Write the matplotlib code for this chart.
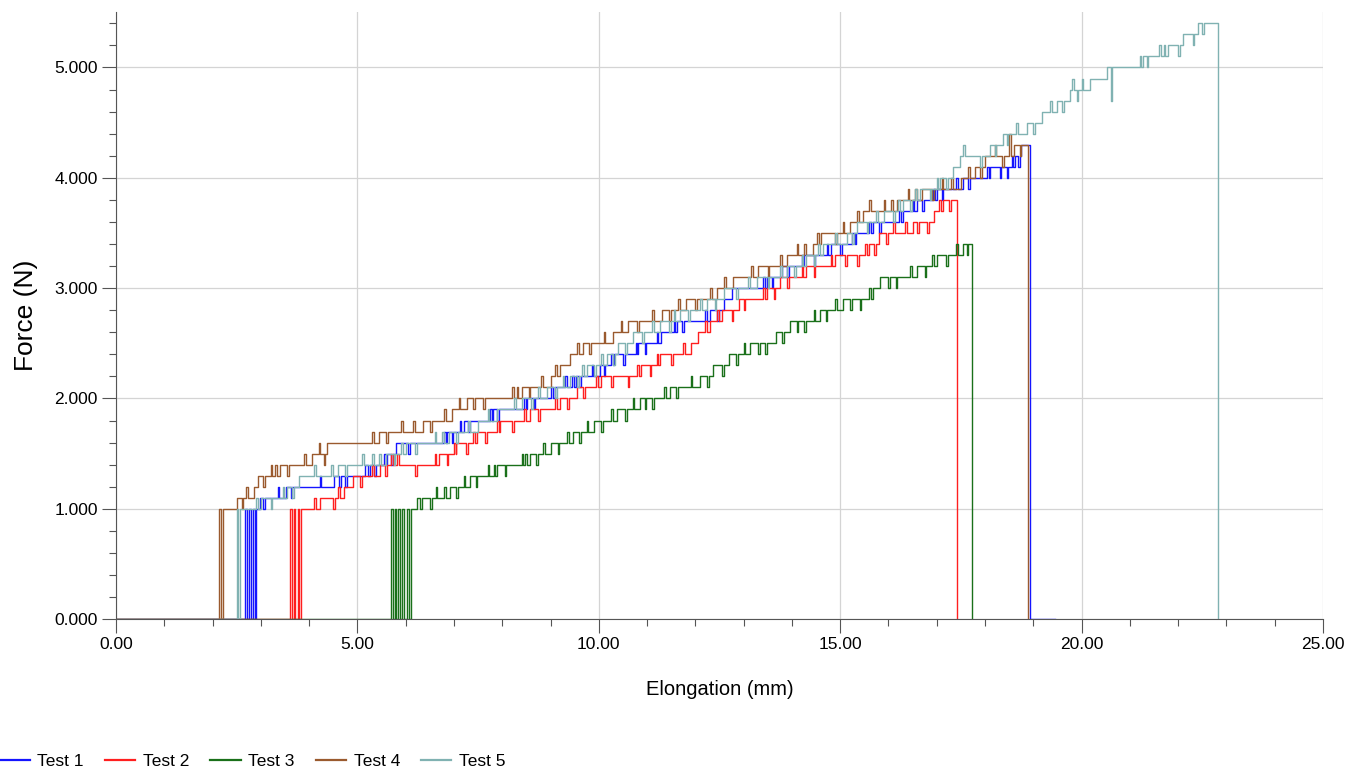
import numpy as np
import matplotlib.pyplot as plt
from matplotlib.lines import Line2D
from matplotlib.ticker import FuncFormatter, MultipleLocator

plt.rcParams['font.family'] = ['Liberation Sans', 'DejaVu Sans']

# step changes: elongation (mm) where the force level starts, force (N)
t1_step_x = [0, 2.90, 2.98, 3.52, 4.52, 5.15, 5.62, 5.80, 6.86, 7.20, 7.80, 8.52, 9.02, 9.52,
             10.02, 10.32, 10.82, 11.28, 11.62, 12.30, 12.60, 12.76, 13.48, 13.80, 14.25, 14.80,
             15.24, 15.68, 16.30, 16.60, 17.00, 17.55, 18.10, 18.62, 18.74, 18.93, 19.45]
t1_step_f = [0, 1000, 1100, 1200, 1300, 1400, 1500, 1600, 1700, 1800, 1900, 2000, 2100, 2200,
             2300, 2400, 2500, 2600, 2700, 2800, 2900, 3000, 3100, 3200, 3300, 3400,
             3500, 3600, 3700, 3800, 3900, 4000, 4100, 4200, 4300, 0, 0]
t1_spike_x = [2.68, 2.76, 2.84, 3.05, 3.35, 3.62, 4.22, 4.62, 4.75, 5.22, 5.35, 5.55, 5.70, 6.05,
              6.80, 6.95, 7.12, 7.30, 7.75, 7.90, 8.45, 8.65, 9.05, 9.30, 9.45, 9.60, 9.85, 10.10,
              10.26, 10.50, 10.76, 10.95, 11.20, 11.55, 11.72, 12.20, 12.45, 13.40, 13.58, 13.90,
              14.20, 14.45, 14.72, 15.00, 15.30, 15.60, 15.80, 16.22, 16.50, 16.70, 16.92, 17.10,
              17.40, 17.65, 18.05, 18.30, 18.45, 18.55, 18.68]
t1_spike_f = [1000, 1000, 1000, 1000, 1200, 1100, 1300, 1200, 1200, 1300, 1300, 1500, 1400, 1500,
              1700, 1600, 1800, 1700, 1900, 1800, 2000, 1900, 2000, 2200, 2200, 2100, 2300, 2200,
              2400, 2300, 2500, 2400, 2600, 2700, 2600, 2800, 2700, 3100, 3000, 3100,
              3300, 3200, 3400, 3300, 3400, 3600, 3500, 3700, 3800, 3700, 3900, 3800,
              4000, 3900, 4100, 4000, 4000, 4200, 4100]

t2_step_x = [0, 3.84, 4.22, 4.72, 4.90, 5.47, 6.70, 7.05, 7.48, 7.95, 8.58, 9.20, 9.55, 10.05,
             10.88, 11.27, 11.90, 12.05, 12.30, 12.55, 12.90, 13.48, 13.75, 14.30, 14.90, 15.60,
             15.80, 16.50, 16.95, 17.13, 17.42]
t2_step_f = [0, 1000, 1100, 1200, 1300, 1400, 1500, 1600, 1700, 1800, 1900, 2000, 2100, 2200,
             2300, 2400, 2500, 2600, 2700, 2800, 2900, 3000, 3100, 3200, 3300, 3400,
             3500, 3600, 3700, 3800, 0]
t2_spike_x = [3.60, 3.68, 3.76, 4.10, 4.50, 4.60, 5.05, 5.30, 5.58, 5.70, 5.82, 6.20, 6.60, 6.85,
              7.00, 7.25, 7.40, 7.65, 7.90, 8.20, 8.45, 8.75, 9.10, 9.35, 9.68, 9.95, 10.25, 10.60,
              10.80, 11.05, 11.20, 11.50, 11.75, 12.20, 12.45, 12.75, 13.00, 13.40, 13.62, 13.90,
              14.20, 14.45, 14.80, 15.10, 15.35, 15.52, 15.70, 15.95, 16.10, 16.35, 16.60, 16.80,
              17.05, 17.25]
t2_spike_f = [1000, 1000, 1000, 1100, 1000, 1200, 1200, 1400, 1300, 1500, 1500, 1300, 1500, 1400,
              1600, 1500, 1700, 1600, 1800, 1700, 1900, 1800, 2000, 1900, 2000, 2200, 2100, 2100,
              2300, 2200, 2400, 2300, 2500, 2700, 2800, 2700, 2800, 3000, 2900, 3000,
              3200, 3100, 3300, 3200, 3200, 3400, 3300, 3400, 3600, 3600, 3500, 3500,
              3800, 3700]

t3_step_x = [0, 6.10, 6.23, 6.92, 7.33, 7.90, 8.58, 9.00, 9.47, 9.90, 10.38, 10.85, 11.47, 12.10,
             12.37, 12.70, 13.13, 13.68, 13.96, 14.58, 15.06, 15.68, 15.83, 16.60, 17.00, 17.55,
             17.72]
t3_step_f = [0, 1000, 1100, 1200, 1300, 1400, 1500, 1600, 1700, 1800, 1900, 2000, 2100, 2200,
             2300, 2400, 2500, 2600, 2700, 2800, 2900, 3000, 3100, 3200, 3300, 3400,
             0]
t3_spike_x = [5.70, 5.77, 5.85, 5.92, 6.03, 6.30, 6.50, 6.62, 6.80, 7.05, 7.20, 7.45, 7.70, 7.82,
              8.05, 8.40, 8.48, 8.70, 8.85, 9.15, 9.35, 9.60, 9.75, 10.05, 10.25, 10.55, 10.70,
              10.95, 11.10, 11.35, 11.60, 11.90, 12.25, 12.55, 12.85, 13.00, 13.30, 13.45, 13.80,
              14.10, 14.25, 14.45, 14.70, 14.90, 15.20, 15.40, 15.60, 16.00, 16.15, 16.45, 16.75,
              16.90, 17.20, 17.40, 17.62]
t3_spike_f = [1000, 1000, 1000, 1000, 1000, 1000, 1000, 1200, 1200, 1100, 1300, 1200, 1400, 1400,
              1300, 1500, 1500, 1400, 1600, 1500, 1700, 1600, 1800, 1700, 1900, 1800, 2000,
              1900, 1900, 2100, 2000, 2200, 2100, 2200, 2300, 2500, 2400, 2400, 2500,
              2600, 2600, 2800, 2700, 2900, 2800, 2800, 3000, 3000, 3000, 3200, 3100,
              3300, 3200, 3400, 3300]

t4_step_x = [0, 2.21, 2.50, 2.85, 2.95, 3.40, 4.06, 4.37, 5.45, 6.35, 6.95, 7.27, 8.40, 9.00,
             9.20, 9.40, 9.67, 10.30, 10.60, 11.30, 11.80, 12.45, 12.78, 13.30, 13.90, 14.44,
             14.60, 15.20, 15.47, 16.17, 16.70, 17.50, 17.80, 18.00, 18.60, 18.89]
t4_step_f = [0, 1000, 1100, 1200, 1300, 1400, 1500, 1600, 1700, 1800, 1900, 2000, 2100, 2200,
             2300, 2400, 2500, 2600, 2700, 2800, 2900, 3000, 3100, 3200, 3300, 3400,
             3500, 3600, 3700, 3800, 3900, 4000, 4100, 4200, 4300, 0]
t4_spike_x = [2.14, 2.60, 2.70, 3.05, 3.20, 3.30, 3.55, 3.90, 4.20, 4.30, 5.30, 5.60, 5.90, 6.15,
              6.50, 6.80, 7.10, 7.40, 7.60, 8.20, 8.30, 8.55, 8.80, 9.10, 9.55, 9.80, 10.10, 10.45,
              10.80, 11.10, 11.45, 11.65, 12.00, 12.30, 12.60, 13.00, 13.15, 13.50, 13.75, 14.10,
              14.25, 14.52, 14.90, 15.05, 15.35, 15.60, 15.90, 16.05, 16.40, 16.55, 16.90, 17.10,
              17.30, 17.65, 17.90, 18.20, 18.35, 18.50, 18.72]
t4_spike_f = [1000, 1000, 1200, 1200, 1400, 1400, 1300, 1500, 1600, 1400, 1700, 1600, 1800, 1800,
              1700, 1900, 2000, 1900, 1900, 2100, 2100, 2000, 2200, 2300, 2500, 2400, 2600, 2700,
              2600, 2800, 2700, 2900, 2800, 3000, 3100, 3100, 3200, 3100, 3300, 3400,
              3400, 3500, 3400, 3600, 3700, 3800, 3800, 3800, 3900, 3900, 3800, 4000,
              4000, 4100, 4000, 4300, 4100, 4400, 4200]

t5_step_x = [0, 2.57, 3.00, 3.54, 3.80, 4.60, 5.60, 6.00, 6.90, 7.50, 7.90, 8.40, 8.93, 9.40,
             9.75, 10.17, 10.40, 10.70, 11.27, 11.68, 12.24, 12.60, 13.28, 13.90, 14.30, 14.64,
             15.14, 15.35, 15.90, 16.30, 16.65, 17.07, 17.34, 17.48, 18.10, 18.37, 18.87, 19.18,
             19.49, 19.76, 20.17, 20.53, 21.27, 21.79, 22.10, 22.41, 22.83]
t5_step_f = [0, 1000, 1100, 1200, 1300, 1400, 1500, 1600, 1700, 1800, 1900, 2000, 2100, 2200,
             2300, 2400, 2500, 2600, 2700, 2800, 2900, 3000, 3100, 3200, 3300, 3400,
             3500, 3600, 3700, 3800, 3900, 4000, 4100, 4200, 4300, 4400, 4500, 4600,
             4700, 4800, 4900, 5000, 5100, 5200, 5300, 5400, 0]
t5_spike_x = [2.50, 2.90, 3.20, 3.45, 3.65, 4.10, 4.45, 4.75, 5.10, 5.30, 5.45, 5.75, 5.90, 6.20,
              6.60, 6.75, 7.05, 7.30, 7.70, 8.10, 8.25, 8.60, 8.75, 9.10, 9.25, 9.55, 9.65, 9.90,
              10.05, 10.30, 10.55, 10.90, 11.10, 11.45, 11.55, 11.85, 12.10, 12.40, 12.85, 13.10,
              13.50, 13.75, 14.05, 14.20, 14.45, 14.55, 14.90, 15.25, 15.55, 15.75, 16.10, 16.20,
              16.45, 16.55, 16.85, 17.00, 17.20, 17.55, 17.90, 18.20, 18.45, 18.65, 19.00, 19.35,
              19.60, 19.80, 19.90, 20.00, 20.60, 21.20, 21.35, 21.60, 21.70, 22.00, 22.30, 22.50]
t5_spike_f = [1000, 1100, 1000, 1200, 1100, 1400, 1400, 1300, 1500, 1500, 1500, 1400, 1600, 1500,
              1700, 1700, 1600, 1800, 1900, 1900, 2000, 1900, 2100, 2000, 2200, 2100, 2300, 2200,
              2400, 2300, 2400, 2500, 2700, 2600, 2800, 2700, 2900, 2800, 2900, 3100,
              3000, 3200, 3100, 3300, 3200, 3400, 3500, 3400, 3500, 3700, 3600, 3800,
              3700, 3900, 3800, 4000, 3900, 4300, 4100, 4200, 4300, 4500, 4400, 4700,
              4600, 4900, 4700, 4900, 4700, 5100, 5000, 5200, 5200, 5100, 5200, 5300]

labels = ['Test 1', 'Test 2', 'Test 3', 'Test 4', 'Test 5']
colors = ['#1515ff', '#ff1f1f', '#1a701a', '#9a5a2e', '#80b2b2']


def trace(sx, sf, px, pf, w=0.035):
    # staircase plus short flicker pulses
    sx = np.array(sx)
    sf = np.array(sf)
    xs = list(sx)
    fs = list(sf)
    for x, f in zip(px, pf):
        back = sf[np.searchsorted(sx, x + w, side='right') - 1]
        xs += [x, x + w]
        fs += [f, back]
    order = np.argsort(xs, kind='stable')
    return np.array(xs)[order], np.array(fs)[order]


series = [
    (t1_step_x, t1_step_f, t1_spike_x, t1_spike_f),
    (t2_step_x, t2_step_f, t2_spike_x, t2_spike_f),
    (t3_step_x, t3_step_f, t3_spike_x, t3_spike_f),
    (t4_step_x, t4_step_f, t4_spike_x, t4_spike_f),
    (t5_step_x, t5_step_f, t5_spike_x, t5_spike_f),
]

fig = plt.figure(figsize=(13.6, 7.71), dpi=100)
ax = fig.add_axes([0.0853, 0.197, 0.8875, 0.787])

for (sx, sf, px, pf), lab, c in zip(series, labels, colors):
    x, f = trace(sx, sf, px, pf)
    ax.step(x, f, where='post', color=c, lw=1.0, label=lab)

ax.set_xlim(0, 25)
ax.set_ylim(0, 5500)
ax.xaxis.set_major_locator(MultipleLocator(5))
ax.xaxis.set_minor_locator(MultipleLocator(1))
ax.yaxis.set_major_locator(MultipleLocator(1000))
ax.yaxis.set_minor_locator(MultipleLocator(200))
ax.xaxis.set_major_formatter(FuncFormatter(lambda v, p: f'{v:.2f}'))
ax.yaxis.set_major_formatter(FuncFormatter(lambda v, p: f'{v / 1000:.3f}'))
ax.grid(True, which='major', color='#d4d4d4', lw=0.9)
ax.set_axisbelow(True)
for s in ['top', 'right']:
    ax.spines[s].set_visible(False)
for s in ['left', 'bottom']:
    ax.spines[s].set_color('#555555')
ax.tick_params(which='major', length=10, width=0.8, color='#555555', labelsize=12.5, pad=3)
ax.tick_params(which='minor', length=5, width=0.8, color='#555555')
ax.set_xlabel('Elongation (mm)', fontsize=14.5, labelpad=20)
ax.set_ylabel('Force (N)', fontsize=19, labelpad=12)

handles = [Line2D([], [], color=c, lw=1.6) for c in colors]
fig.legend(handles, labels, loc='lower left', bbox_to_anchor=(-0.012, -0.018), ncol=5,
           frameon=False, fontsize=12.5, handlelength=1.75, handletextpad=0.45,
           columnspacing=1.2)

plt.savefig('out.png')
